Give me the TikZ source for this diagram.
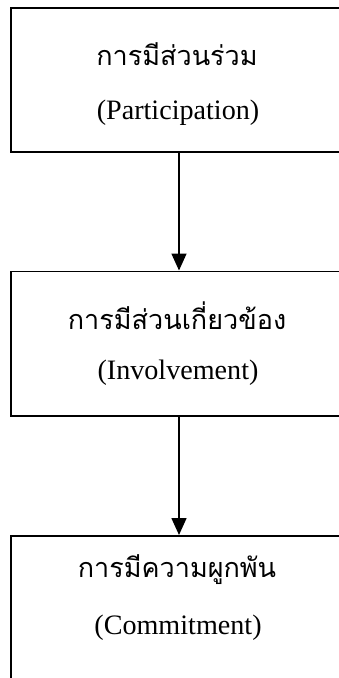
\documentclass[tikz,border=0pt]{standalone}
\usepackage{fontspec}
\setmainfont{Liberation Serif}
\newfontfamily\thaifont[Script=Thai]{Loma}
\usetikzlibrary{arrows.meta}

\begin{document}
\begin{tikzpicture}[x=0.025cm,y=-0.025cm,
	stage/.style={draw,line width=1.4pt,minimum width=8.4cm,minimum height=3.6cm,inner sep=0pt},
	thai/.style={font=\thaifont\fontsize{19.2}{23}\selectfont,inner sep=0pt},
	eng/.style={font=\fontsize{20}{24}\selectfont,inner sep=0pt},
	link/.style={-{Triangle[length=0.42cm,width=0.37cm]},line width=1.2pt}]
\useasboundingbox (0,0) rectangle (339,678);
\clip (0,0) rectangle (339,678);
\node[stage] (part) at (179,80) {};
\node[stage] (inv) at (179,343.5) {};
\node[stage] (com) at (179,608) {};
\node[thai] (partth) at (177,54) {การมีส่วนร่วม};
\node[eng] (parten) at (178,113) {(Participation)};
\node[thai] (invth) at (177,316) {การมีส่วนเกี่ยวข้อง};
\node[eng] (inven) at (178,373) {(Involvement)};
\node[thai] (comth) at (177,570) {การมีความผูกพัน};
\node[eng] (comen) at (178,628) {(Commitment)};
\draw[link] (part) -- (inv);
\draw[link] (inv) -- (com);
\end{tikzpicture}
\end{document}
